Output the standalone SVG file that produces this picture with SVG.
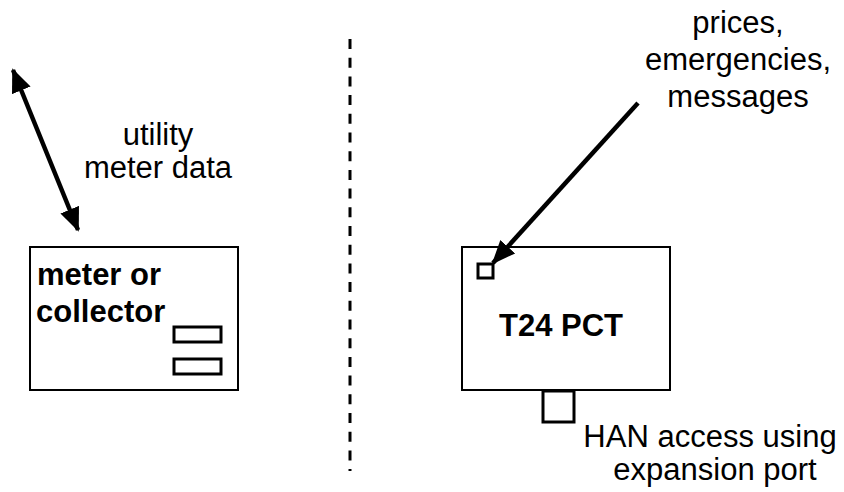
<svg xmlns="http://www.w3.org/2000/svg" width="844" height="492" viewBox="0 0 844 492">
<style>
.box{fill:#fff;stroke:#000;stroke-width:2}
.port{fill:#fff;stroke:#000;stroke-width:3}
.lbl{font-family:"Liberation Sans",Arial,sans-serif;font-size:31px;fill:#000;text-anchor:middle}
.bold{font-family:"Liberation Sans",Arial,sans-serif;font-size:31px;font-weight:bold;fill:#000}
.arrow{stroke:#000;stroke-width:4.5;fill:none}
</style>
<defs>
<marker id="ah" markerUnits="userSpaceOnUse" markerWidth="26" markerHeight="22" refX="22" refY="10" orient="auto-start-reverse" viewBox="0 0 26 20">
<path d="M0,0 L24,10 L0,20 Z" fill="#000"/>
</marker>
</defs>
<rect width="844" height="492" fill="#fff"/>
<g id="divider">
<line x1="350" y1="39" x2="350" y2="471" stroke="#000" stroke-width="3" stroke-dasharray="10 8.7"/>
</g>
<g id="meter">
<rect class="box" x="30" y="247" width="208" height="143"/>
<text class="bold" x="37" y="285">meter or</text>
<text class="bold" x="36" y="322">collector</text>
<rect class="port" x="174" y="327" width="47" height="15"/>
<rect class="port" x="174" y="359" width="47" height="15"/>
</g>
<g id="pct">
<rect class="box" x="462" y="247" width="208" height="143"/>
<text class="bold" x="561" y="336" text-anchor="middle">T24 PCT</text>
<rect class="port" x="478" y="264" width="15" height="14"/>
<rect class="port" x="543" y="391" width="31" height="31"/>
</g>
<g id="connectors">
<line class="arrow" x1="13" y1="70" x2="78" y2="230" marker-start="url(#ah)" marker-end="url(#ah)"/>
<line class="arrow" x1="638" y1="103" x2="493" y2="263" marker-end="url(#ah)"/>
</g>
<g id="labels">
<text class="lbl" x="158" y="145">utility</text>
<text class="lbl" x="158" y="178">meter data</text>
<text class="lbl" x="738" y="33">prices,</text>
<text class="lbl" x="738" y="70">emergencies,</text>
<text class="lbl" x="738" y="107">messages</text>
<text class="lbl" x="710" y="447">HAN access using</text>
<text class="lbl" x="715" y="480">expansion port</text>
</g>
</svg>
